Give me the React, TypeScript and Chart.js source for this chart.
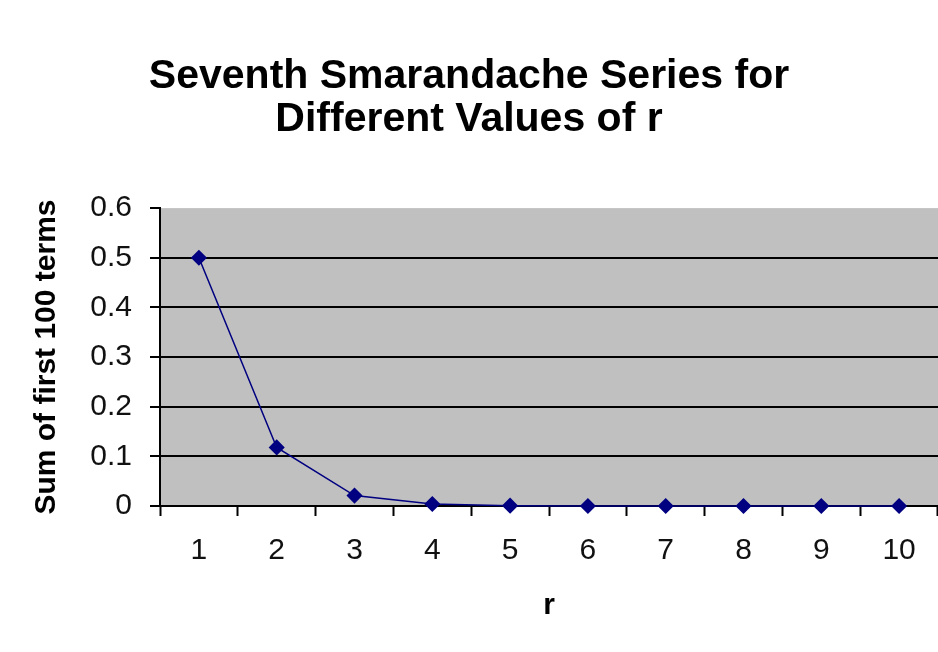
import React, { useEffect, useRef } from "react";
import { Chart, registerables } from "chart.js";

Chart.register(...registerables);

const categories = ["1", "2", "3", "4", "5", "6", "7", "8", "9", "10"];
const sums = [0.5, 0.118, 0.021, 0.004, 0.0007, 0.0001, 0, 0, 0, 0];
const titleLines = ["Seventh Smarandache Series for", "Different Values of r"];
const yTitle = "Sum of first 100 terms";
const xTitle = "r";

const FONT = "Arial, 'Liberation Sans', sans-serif";

const plotBg = {
  id: "plotBg",
  beforeDraw(chart: any) {
    const { ctx, chartArea } = chart;
    ctx.save();
    ctx.fillStyle = "#ffffff";
    ctx.fillRect(0, 0, chart.width, chart.height);
    ctx.fillStyle = "#C0C0C0";
    ctx.fillRect(chartArea.left, chartArea.top, chartArea.right - chartArea.left, chartArea.bottom - chartArea.top);
    ctx.restore();
  },
};

export default function App() {
  const ref = useRef<HTMLCanvasElement | null>(null);
  useEffect(() => {
    document.body.style.margin = "0";
    const chart = new Chart(ref.current as HTMLCanvasElement, {
      type: "line",
      data: {
        labels: categories,
        datasets: [
          {
            data: sums,
            borderColor: "#000080",
            backgroundColor: "#000080",
            borderWidth: 1.5,
            pointStyle: "rectRot",
            pointRadius: 7,
            pointBackgroundColor: "#000080",
            pointBorderColor: "#000080",
            tension: 0,
            clip: false,
          },
        ],
      },
      options: {
        animation: false,
        responsive: false,
        layout: { padding: 0, autoPadding: false },
        plugins: {
          legend: { display: false },
          tooltip: { enabled: false },
          title: {
            display: true,
            text: titleLines,
            color: "#000",
            font: { family: FONT, size: 41, weight: "bold", lineHeight: 1.05 },
            padding: { top: 55, bottom: 67 },
          },
        },
        scales: {
          x: {
            type: "category",
            offset: true,
            grid: {
              offset: true,
              drawOnChartArea: false,
              drawTicks: true,
              tickLength: 10,
              tickColor: "#000",
              tickWidth: 2,
            },
            border: { display: true, color: "#000", width: 2 },
            ticks: { color: "#111", font: { family: FONT, size: 30 }, padding: 17, maxRotation: 0 },
            title: {
              display: true,
              text: xTitle,
              color: "#000",
              font: { family: FONT, size: 30, weight: "bold", lineHeight: 1.2 },
              padding: { top: 0, bottom: 28 },
            },
            afterFit(scale: any) {
              scale.height = 146;
              scale.paddingLeft = 0;
              scale.paddingRight = 0;
            },
          },
          y: {
            min: 0,
            max: 0.6,
            ticks: {
              stepSize: 0.1,
              color: "#111",
              font: { family: FONT, size: 30 },
              padding: 18,
              callback: (v: any) => String(Math.round(Number(v) * 10) / 10),
            },
            grid: {
              color: (c: any) => (c.tick && Math.abs(c.tick.value - 0.6) < 1e-9 ? "rgba(0,0,0,0)" : "#000"),
              lineWidth: 2,
              tickLength: 10,
              tickColor: "#000",
              tickWidth: 2,
            },
            border: { display: true, color: "#000", width: 2 },
            title: {
              display: true,
              text: yTitle,
              color: "#000",
              font: { family: FONT, size: 30, weight: "bold", lineHeight: 1.2 },
              padding: { top: 29, bottom: 0 },
            },
            afterFit(scale: any) {
              scale.width = 160;
              scale.paddingTop = 0;
              scale.paddingBottom = 0;
            },
          },
        },
      },
      plugins: [plotBg],
    });
    return () => chart.destroy();
  }, []);
  return (
    <div style={{ width: 938, height: 652, background: "#fff" }}>
      <canvas ref={ref} width={938} height={652} style={{ display: "block" }} />
    </div>
  );
}
